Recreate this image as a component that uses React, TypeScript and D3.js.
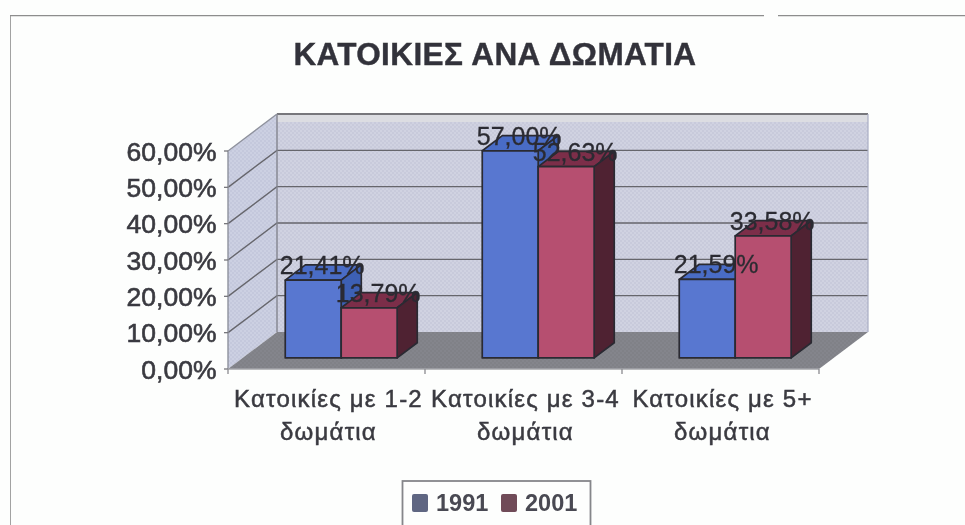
import * as d3 from "d3";

// values, in percent
const categories = ["Κατοικίες με 1-2 δωμάτια", "Κατοικίες με 3-4 δωμάτια", "Κατοικίες με 5+ δωμάτια"];
const categoryLines = [["Κατοικίες με 1-2", "δωμάτια"], ["Κατοικίες με 3-4", "δωμάτια"], ["Κατοικίες με 5+", "δωμάτια"]];
const seriesNames = ["1991", "2001"];
const values1991 = [21.41, 57.0, 21.59];
const values2001 = [13.79, 52.63, 33.58];
const yTicks = [0, 10, 20, 30, 40, 50, 60];
const title = "ΚΑΤΟΙΚΙΕΣ ΑΝΑ ΔΩΜΑΤΙΑ";

const font = "'Liberation Sans', Arial, sans-serif";
const ink = "#3a3a40";

const width = 965;
const height = 525;

const x = d3.scaleBand<string>().domain(categories).range([228, 819]).paddingInner(0.432).paddingOuter(0.216);
const xSeries = d3.scaleBand<string>().domain(seriesNames).range([0, x.bandwidth()]);
const y = d3.scaleLinear().domain([0, 60]).range([369, 151]);
// depth runs from the front of the floor (0) to the back wall (1)
const depthX = d3.scaleLinear().domain([0, 1]).range([0, 49]);
const depthY = d3.scaleLinear().domain([0, 1]).range([0, -37]);

const project = (px: number, value: number, depth: number): [number, number] => [
  px + depthX(depth),
  y(value) + depthY(depth),
];
const poly = d3.line().curve(d3.curveLinearClosed);
const pct = d3.formatLocale({ decimal: ",", thousands: ".", grouping: [3], currency: ["", "€"] }).format(".2%");

const barFront = 0.3;
const barBack = 0.71;
const x0 = 228;
const x1 = 819;
const wallTop = 60;

const seriesColors = [
  { front: "#5877d0", top: "#4a6cc6", side: "#3c60b4" },
  { front: "#b6506f", top: "#7c2f4a", side: "#4f2132" },
];
const legendColors = ["#5f6682", "#704b59"];

function Bar({ px, w, value, c }: { px: number; w: number; value: number; c: (typeof seriesColors)[number] }) {
  const fl = project(px, 0, barFront);
  const tl = project(px, value, barFront);
  const tr = project(px + w, value, barFront);
  const br = project(px + w, 0, barFront);
  const tlb = project(px, value, barBack);
  const trb = project(px + w, value, barBack);
  const brb = project(px + w, 0, barBack);
  return (
    <g stroke="#2a2a33" strokeWidth={1.7} strokeLinejoin="round">
      <path d={poly([tl, tr, trb, tlb])!} fill={c.top} />
      <path d={poly([br, tr, trb, brb])!} fill={c.side} />
      <path d={poly([fl, tl, tr, br])!} fill={c.front} />
    </g>
  );
}

export default function App() {
  const rows = categories.map((cat, i) => ({ cat, vals: [values1991[i], values2001[i]], lines: categoryLines[i] }));
  return (
    <svg
      width={width}
      height={height}
      viewBox={`0 0 ${width} ${height}`}
      style={{ position: "absolute", left: 0, top: 0, background: "#fdfefd" }}
      fontFamily={font}
    >
      <defs>
        <filter id="scan" x="0" y="0" width="100%" height="100%">
          <feGaussianBlur stdDeviation="0.6" />
        </filter>
        <pattern id="halftone" width="4" height="4" patternUnits="userSpaceOnUse">
          <circle cx="1" cy="1" r="0.8" fill="#8f93b4" fillOpacity="0.28" />
          <circle cx="3" cy="3" r="0.8" fill="#8f93b4" fillOpacity="0.28" />
        </pattern>
        <pattern id="halftoneDark" width="4" height="4" patternUnits="userSpaceOnUse">
          <circle cx="1" cy="1" r="0.8" fill="#20202c" fillOpacity="0.1" />
          <circle cx="3" cy="3" r="0.8" fill="#20202c" fillOpacity="0.1" />
        </pattern>
      </defs>

      <g filter="url(#scan)">
        {/* outer frame, top and left only, the scan leaves a gap near the right */}
        <path d="M10,525V15.5H764M778,15.5H965" fill="none" stroke="#8d8d8d" strokeWidth={1.6} />

        <text
          x={495}
          y={65}
          textAnchor="middle"
          fontSize={31.5}
          letterSpacing={0.4}
          fontWeight="bold"
          fill="#33333a"
          stroke="#33333a"
          strokeWidth={0.4}
        >
          {title}
        </text>

        {/* left wall, back wall, floor */}
        {[
          { pts: [project(x0, 0, 0), project(x0, wallTop, 0), project(x0, wallTop, 1), project(x0, 0, 1)], fill: "#ccd0e2" },
          { pts: [project(x0, 0, 1), project(x0, wallTop, 1), project(x1, wallTop, 1), project(x1, 0, 1)], fill: "#d0d2e1" },
        ].map((w, i) => (
          <g key={i}>
            <path d={poly(w.pts)!} fill={w.fill} />
            <path d={poly(w.pts)!} fill="url(#halftone)" />
          </g>
        ))}
        <path d={poly([project(x0, 0, 0), project(x0, 0, 1), project(x1, 0, 1), project(x1, 0, 0)])!} fill="#84858c" />
        <path d={poly([project(x0, 0, 0), project(x0, 0, 1), project(x1, 0, 1), project(x1, 0, 0)])!} fill="url(#halftoneDark)" />

        {/* gridlines along the left wall and the back wall */}
        {yTicks.slice(1, -1).map((t) => (
          <path
            key={t}
            d={d3.line()([project(x0, t, 0), project(x0, t, 1), project(x1, t, 1)])!}
            fill="none"
            stroke="#66666c"
            strokeWidth={1.4}
          />
        ))}

        {/* top edge of the wall: dark rule with the pale band under it */}
        <path d={d3.line()([project(x0, wallTop, 1), project(x1, wallTop, 1)])!} stroke="#77777c" strokeWidth={2.2} fill="none" />
        <rect
          x={project(x0, wallTop, 1)[0]}
          y={project(x0, wallTop, 1)[1] + 1}
          width={x1 - x0}
          height={7}
          fill="#dcdde2"
        />

        <path d={d3.line()([project(x0, wallTop, 1), project(x0, 0, 1)])!} stroke="#83858f" strokeWidth={1.4} fill="none" />
        <path d={d3.line()([project(x1, wallTop, 1), project(x1, 0, 1)])!} stroke="#a9adc4" strokeWidth={1.2} fill="none" />
        <path d={d3.line()([project(x0, wallTop, 1), project(x0, wallTop, 0), project(x0, 0, 0)])!} stroke="#8f929d" strokeWidth={1.4} fill="none" />

        {/* bars, drawn left to right so the right one covers the side of the left one */}
        {rows.map((r) =>
          r.vals.map((v, s) => (
            <Bar
              key={r.cat + s}
              px={x(r.cat)! + xSeries(seriesNames[s])!}
              w={xSeries.bandwidth()}
              value={v}
              c={seriesColors[s]}
            />
          )),
        )}

        {/* axes */}
        <path d={d3.line()([[x0, y(0)], [x1, y(0)]])!} stroke="#a3a4aa" strokeWidth={1.4} fill="none" />
        {yTicks.map((t) => (
          <g key={t}>
            <path d={d3.line()([[x0 - 4, y(t)], [x0, y(t)]])!} stroke="#77777c" strokeWidth={1.3} />
            <text
              x={216.5}
              y={y(t)}
              dy="0.36em"
              textAnchor="end"
              fontSize={26.5}
              fill={ink}
              stroke={ink}
              strokeWidth={0.6}
            >
              {pct(t / 100)}
            </text>
          </g>
        ))}
        {[...categories.map((c) => x(c)! - (x.step() - x.bandwidth()) / 2), x1].map((t, i) => (
          <path key={i} d={d3.line()([[t, y(0)], [t, y(0) + 5]])!} stroke="#8a8a90" strokeWidth={1.3} />
        ))}
        {rows.map((r) => (
          <text
            key={r.cat}
            y={407}
            textAnchor="middle"
            fontSize={24}
            letterSpacing={1.2}
            fill={ink}
            stroke={ink}
            strokeWidth={0.5}
          >
            {r.lines.map((l, i) => (
              <tspan key={i} x={x(r.cat)! + x.bandwidth() / 2 + 2} dy={i ? 33 : 0}>
                {l}
              </tspan>
            ))}
          </text>
        ))}

        {/* data labels sit on top of everything */}
        {rows.map((r) =>
          r.vals.map((v, s) => {
            const [tx, ty] = project(x(r.cat)! + xSeries(seriesNames[s])! + xSeries.bandwidth() / 2, v, barFront);
            return (
              <text
                key={r.cat + s}
                x={tx + 9}
                y={ty - 15}
                dy="0.36em"
                textAnchor="middle"
                fontSize={25}
                fill="#2c2c32"
                stroke="#2c2c32"
                strokeWidth={0.3}
              >
                {pct(v / 100)}
              </text>
            );
          }),
        )}

        {/* legend, runs off the bottom edge */}
        <rect x={402.5} y={481} width={188} height={60} fill="#fdfefd" stroke="#85868a" strokeWidth={1.8} />
        {seriesNames.map((name, i) => {
          const lx = d3.scaleLinear().domain([0, 1]).range([412, 501])(i);
          return (
            <g key={name}>
              <rect x={lx} y={494} width={16} height={18} rx={2} fill={legendColors[i]} />
              <text x={lx + 24} y={511} fontSize={23.5} fontWeight="bold" fill="#4a4a52">
                {name}
              </text>
            </g>
          );
        })}
      </g>
    </svg>
  );
}
